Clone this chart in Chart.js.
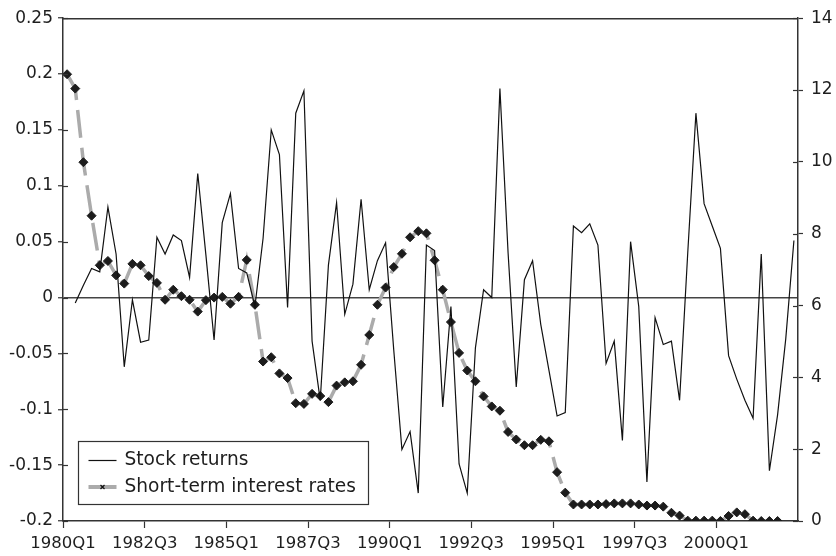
<!DOCTYPE html>
<html>
<head>
<meta charset="utf-8">
<script src="https://cdn.jsdelivr.net/npm/chart.js@4.4.1/dist/chart.umd.min.js"></script>
<style>
  html, body { margin: 0; padding: 0; background: #fff; }
  #wrap { width: 836px; height: 556px; }
</style>
</head>
<body>
<div id="wrap"><canvas id="c" width="836" height="556"></canvas></div>
<script>
// ---- data ----
const xTickLabels = ['1980Q1','1982Q3','1985Q1','1987Q3','1990Q1','1992Q3','1995Q1','1997Q3','2000Q1'];
const leftTickLabels = ['-0.2','-0.15','-0.1','-0.05','0','0.05','0.1','0.15','0.2','0.25'];
const rightTickLabels = ['0','2','4','6','8','10','12','14'];
const seriesNames = ['Stock returns', 'Short-term interest rates'];

// quarterly stock returns, quarter index 0 has no value
const stockReturns = [
  null, -0.005, 0.011, 0.026, 0.023, 0.081, 0.039, -0.062, -0.002, -0.040,
  -0.038, 0.054, 0.039, 0.056, 0.051, 0.018, 0.111, 0.038, -0.038, 0.067,
  0.093, 0.026, 0.022, -0.008, 0.053, 0.150, 0.128, -0.009, 0.165, 0.185,
  -0.039, -0.092, 0.029, 0.085, -0.015, 0.012, 0.088, 0.007, 0.033, 0.049,
  -0.047, -0.136, -0.120, -0.175, 0.047, 0.042, -0.098, -0.008, -0.149, -0.175,
  -0.045, 0.007, 0.000, 0.187, 0.040, -0.080, 0.016, 0.033, -0.024, -0.065,
  -0.106, -0.103, 0.064, 0.058, 0.066, 0.047, -0.059, -0.039, -0.128, 0.050,
  -0.008, -0.165, -0.018, -0.042, -0.039, -0.092, 0.040, 0.165, 0.084, 0.064,
  0.044, -0.052, -0.073, -0.092, -0.108, 0.039, -0.155, -0.105, -0.037, 0.051
];

// quarterly short-term interest rates (percent)
const interestRates = [
  12.44, 12.04, 9.99, 8.50, 7.12, 7.24, 6.84, 6.61, 7.16, 7.12,
  6.82, 6.63, 6.16, 6.44, 6.26, 6.16, 5.83, 6.15, 6.22, 6.24,
  6.05, 6.24, 7.27, 6.02, 4.44, 4.56, 4.11, 3.98, 3.28, 3.26,
  3.54, 3.48, 3.31, 3.77, 3.86, 3.89, 4.35, 5.18, 6.02, 6.50,
  7.07, 7.44, 7.90, 8.07, 8.01, 7.26, 6.44, 5.54, 4.68, 4.19,
  3.89, 3.47, 3.19, 3.07, 2.48, 2.27, 2.11, 2.11, 2.26, 2.22,
  1.36, 0.79, 0.46, 0.46, 0.46, 0.46, 0.47, 0.49, 0.49, 0.49,
  0.46, 0.43, 0.43, 0.40, 0.23, 0.15, 0.01, 0.01, 0.01, 0.01,
  0.00, 0.14, 0.24, 0.19, 0.01, 0.00, 0.00, 0.00
];

const QUARTERS = 90;        // number of quarters on the axis
const TICK_EVERY = 10;      // label every 10 quarters

// ---- build chart ----
const stockPts = stockReturns.map((v, i) => ({x: i, y: v}));
const ratePts = interestRates.map((v, i) => ({x: i, y: v}));

const AXIS = '#333';
const TXT = '#1e1e1e';
const FONT = "'DejaVu Sans', sans-serif";

const framePlugin = {
  id: 'frame',
  afterDatasetsDraw(chart) {
    const {ctx, chartArea: a, scales} = chart;
    ctx.save();
    ctx.strokeStyle = AXIS;
    ctx.lineWidth = 1.5;
    ctx.beginPath();
    ctx.moveTo(a.left, a.top + 0.5);
    ctx.lineTo(a.right, a.top + 0.5);
    ctx.stroke();
    ctx.lineWidth = 1.2;
    scales.y.ticks.forEach(t => {
      const py = Math.round(scales.y.getPixelForValue(t.value)) + 0.5;
      ctx.beginPath(); ctx.moveTo(a.left, py); ctx.lineTo(a.left + 5, py); ctx.stroke();
    });
    scales.y2.ticks.forEach(t => {
      const py = Math.round(scales.y2.getPixelForValue(t.value)) + 0.5;
      ctx.beginPath(); ctx.moveTo(a.right, py); ctx.lineTo(a.right - 5, py); ctx.stroke();
    });
    ctx.restore();
  },
  afterDraw(chart) {
    const {ctx, chartArea: a} = chart;
    const ds = chart.data.datasets;
    const bx = a.left + 15.5, by = a.bottom - 79.5, bw = 290, bh = 63;
    ctx.save();
    ctx.fillStyle = '#fff';
    ctx.fillRect(bx, by, bw, bh);
    ctx.strokeStyle = AXIS;
    ctx.lineWidth = 1.2;
    ctx.strokeRect(bx, by, bw, bh);
    const sx0 = bx + 10, sx1 = bx + 38, tx = bx + 46;
    const y1 = by + 19, y2 = by + 45.5;
    ctx.strokeStyle = ds[0].borderColor;
    ctx.lineWidth = 1.2;
    ctx.beginPath(); ctx.moveTo(sx0, y1); ctx.lineTo(sx1, y1); ctx.stroke();
    ctx.strokeStyle = ds[1].borderColor;
    ctx.lineWidth = 4;
    ctx.beginPath(); ctx.moveTo(sx0, y2); ctx.lineTo(sx1, y2); ctx.stroke();
    ctx.strokeStyle = '#111';
    ctx.lineWidth = 1.2;
    const cx = (sx0 + sx1) / 2;
    ctx.beginPath();
    ctx.moveTo(cx - 2, y2 - 2); ctx.lineTo(cx + 2, y2 + 2);
    ctx.moveTo(cx + 2, y2 - 2); ctx.lineTo(cx - 2, y2 + 2);
    ctx.stroke();
    ctx.fillStyle = TXT;
    ctx.font = "18.6px " + FONT;
    ctx.textBaseline = 'middle';
    ctx.fillText(ds[0].label, tx, y1);
    ctx.fillText(ds[1].label, tx, y2);
    ctx.restore();
  }
};

new Chart(document.getElementById('c'), {
  type: 'line',
  data: {
    datasets: [
      {
        label: seriesNames[0],
        data: stockPts,
        yAxisID: 'y',
        borderColor: '#111',
        borderWidth: 1.2,
        pointRadius: 0,
        tension: 0,
        order: 0
      },
      {
        label: seriesNames[1],
        data: ratePts,
        yAxisID: 'y2',
        borderColor: '#ababab',
        borderWidth: 3.5,
        borderDash: [28, 10],
        pointStyle: 'rectRot',
        pointRadius: 4.5,
        pointBackgroundColor: '#1c1c1c',
        pointBorderColor: '#1c1c1c',
        pointBorderWidth: 1,
        tension: 0,
        order: 1
      }
    ]
  },
  options: {
    responsive: false,
    animation: false,
    devicePixelRatio: 1,
    layout: { padding: { top: 16, left: 0, right: 0, bottom: 0 } },
    plugins: { legend: { display: false }, tooltip: { enabled: false } },
    scales: {
      x: {
        type: 'linear',
        min: -0.5,
        max: QUARTERS - 0.5,
        afterBuildTicks(scale) {
          scale.ticks = xTickLabels.map((_, k) => ({ value: -0.5 + k * TICK_EVERY }));
        },
        afterFit(scale) { scale.height = 35; },
        ticks: {
          autoSkip: false,
          maxRotation: 0,
          color: TXT,
          font: { family: FONT, size: 16.5 },
          padding: 6,
          callback: (v, i) => xTickLabels[i]
        },
        grid: { drawOnChartArea: false, drawTicks: true, tickLength: 7, tickColor: AXIS, tickWidth: 1.2 },
        border: { display: true, color: AXIS, width: 1.5 }
      },
      y: {
        type: 'linear',
        position: 'left',
        min: -0.2,
        max: 0.25,
        afterBuildTicks(scale) {
          scale.ticks = leftTickLabels.map(s => ({ value: parseFloat(s) }));
        },
        afterFit(scale) { scale.width = 63; },
        ticks: {
          color: TXT,
          font: { family: FONT, size: 17 },
          padding: 5,
          callback: (v, i) => leftTickLabels[i]
        },
        grid: {
          drawOnChartArea: true,
          drawTicks: true,
          tickLength: 5,
          tickWidth: 1.2,
          tickColor: AXIS,
          lineWidth: 1.5,
          color: c => (c.tick && Math.abs(c.tick.value) < 1e-9) ? '#444' : 'rgba(0,0,0,0)'
        },
        border: { display: true, color: AXIS, width: 1.5 }
      },
      y2: {
        type: 'linear',
        position: 'right',
        min: 0,
        max: 14,
        afterBuildTicks(scale) {
          scale.ticks = rightTickLabels.map(s => ({ value: parseFloat(s) }));
        },
        afterFit(scale) { scale.width = 38; },
        ticks: {
          color: TXT,
          font: { family: FONT, size: 17 },
          padding: 8,
          callback: (v, i) => rightTickLabels[i]
        },
        grid: { drawOnChartArea: false, drawTicks: true, tickLength: 5, tickWidth: 1.2, tickColor: AXIS },
        border: { display: true, color: AXIS, width: 1.5 }
      }
    }
  },
  plugins: [framePlugin]
});
</script>
</body>
</html>
